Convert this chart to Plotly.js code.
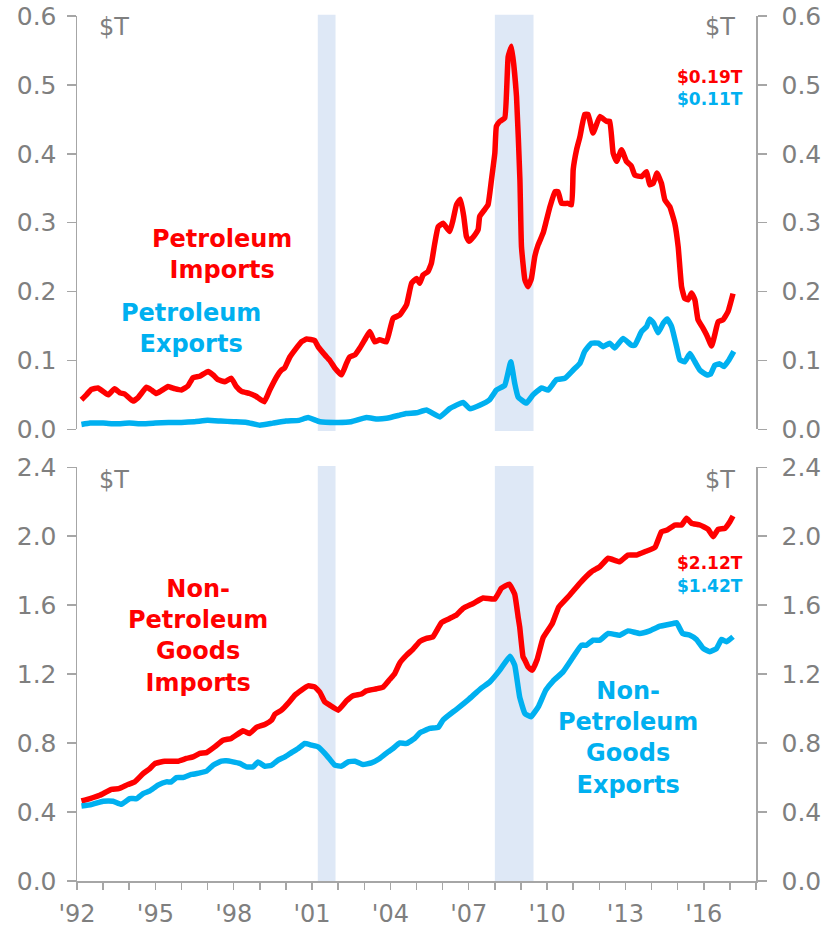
<!DOCTYPE html>
<html>
<head>
<meta charset="utf-8">
<script src="https://cdn.plot.ly/plotly-3.0.1.min.js"></script>
<style>html,body{margin:0;padding:0;background:#fff}#chart{width:823px;height:927px}</style>
</head>
<body>
<div id="chart"></div>
<script>
// ---- Data ($ trillions, 12-month totals) ----
const petImpX = [1992.17,1992.36,1992.55,1992.80,1993.00,1993.19,1993.44,1993.64,1993.83,1994.14,1994.34,1994.66,1994.85,1995.04,1995.23,1995.49,1995.74,1996.00,1996.25,1996.44,1996.70,1997.02,1997.21,1997.40,1997.66,1997.91,1998.10,1998.30,1998.61,1998.85,1999.17,1999.38,1999.64,1999.83,1999.95,2000.15,2000.34,2000.59,2000.79,2001.10,2001.23,2001.49,2001.68,2001.87,2002.13,2002.32,2002.44,2002.64,2002.83,2003.02,2003.21,2003.40,2003.59,2003.85,2004.10,2004.36,2004.62,2004.81,2005.00,2005.12,2005.25,2005.44,2005.57,2005.70,2005.83,2006.02,2006.27,2006.40,2006.53,2006.68,2006.81,2006.91,2007.01,2007.19,2007.36,2007.42,2007.61,2007.74,2007.87,2008.00,2008.06,2008.19,2008.38,2008.51,2008.64,2008.83,2008.96,2009.02,2009.15,2009.27,2009.40,2009.53,2009.66,2009.85,2009.98,2010.11,2010.30,2010.42,2010.55,2010.80,2010.94,2011.00,2011.13,2011.26,2011.44,2011.57,2011.76,2012.02,2012.28,2012.40,2012.53,2012.66,2012.85,2013.04,2013.23,2013.36,2013.62,2013.81,2013.93,2014.06,2014.21,2014.38,2014.51,2014.70,2014.89,2015.02,2015.15,2015.27,2015.40,2015.53,2015.66,2015.78,2015.97,2016.11,2016.30,2016.42,2016.55,2016.74,2016.93,2017.12];
const petImpY = [0.043,0.050,0.058,0.060,0.055,0.050,0.059,0.053,0.051,0.041,0.046,0.061,0.057,0.052,0.056,0.062,0.059,0.057,0.063,0.075,0.077,0.084,0.079,0.072,0.069,0.074,0.062,0.055,0.052,0.048,0.040,0.057,0.076,0.086,0.089,0.105,0.115,0.127,0.131,0.129,0.120,0.108,0.100,0.089,0.079,0.096,0.105,0.108,0.118,0.130,0.142,0.127,0.130,0.127,0.161,0.166,0.181,0.212,0.219,0.212,0.224,0.229,0.241,0.270,0.294,0.299,0.287,0.304,0.326,0.334,0.309,0.280,0.273,0.280,0.290,0.309,0.319,0.326,0.362,0.401,0.440,0.447,0.452,0.541,0.556,0.483,0.362,0.265,0.217,0.207,0.219,0.251,0.268,0.285,0.304,0.323,0.345,0.345,0.328,0.328,0.326,0.377,0.406,0.425,0.457,0.457,0.430,0.454,0.447,0.447,0.401,0.389,0.406,0.389,0.382,0.369,0.367,0.374,0.355,0.357,0.372,0.357,0.333,0.323,0.299,0.265,0.207,0.190,0.188,0.198,0.188,0.159,0.147,0.137,0.121,0.137,0.156,0.159,0.171,0.197];

const petExpX = [1992.17,1992.50,1993.00,1993.50,1994.00,1994.50,1995.00,1995.50,1996.00,1996.50,1997.00,1997.50,1998.00,1998.50,1999.00,1999.50,2000.00,2000.50,2000.85,2001.30,2002.00,2002.50,2003.08,2003.50,2003.85,2004.30,2004.60,2005.00,2005.38,2005.89,2006.27,2006.78,2007.04,2007.42,2007.80,2008.06,2008.38,2008.61,2008.76,2008.89,2009.21,2009.46,2009.79,2010.04,2010.36,2010.68,2011.00,2011.26,2011.44,2011.70,2011.96,2012.15,2012.40,2012.59,2012.91,2013.23,2013.36,2013.62,2013.81,2013.93,2014.08,2014.25,2014.45,2014.60,2014.77,2014.96,2015.08,2015.27,2015.47,2015.66,2015.85,2016.11,2016.26,2016.42,2016.61,2016.77,2016.97,2017.15];
const petExpY = [0.007,0.009,0.009,0.008,0.009,0.008,0.009,0.010,0.010,0.011,0.013,0.012,0.011,0.010,0.006,0.009,0.012,0.013,0.017,0.011,0.010,0.011,0.017,0.015,0.016,0.020,0.023,0.024,0.028,0.018,0.030,0.039,0.030,0.035,0.043,0.057,0.064,0.098,0.067,0.047,0.038,0.050,0.060,0.057,0.072,0.074,0.086,0.096,0.113,0.125,0.125,0.120,0.125,0.118,0.132,0.122,0.122,0.142,0.149,0.160,0.154,0.140,0.154,0.160,0.149,0.120,0.101,0.098,0.110,0.098,0.086,0.079,0.080,0.093,0.095,0.091,0.101,0.113];

const nonPetImpX = [1992.17,1992.50,1992.87,1993.32,1993.60,1993.95,1994.21,1994.53,1994.79,1994.98,1995.36,1995.87,1996.19,1996.44,1996.70,1996.96,1997.27,1997.59,1997.91,1998.36,1998.61,1998.87,1999.19,1999.45,1999.58,1999.83,2000.08,2000.34,2000.59,2000.85,2001.10,2001.30,2001.49,2001.68,2002.00,2002.32,2002.57,2002.89,2003.08,2003.47,2003.72,2003.98,2004.17,2004.36,2004.62,2004.87,2005.13,2005.38,2005.63,2005.96,2006.27,2006.53,2006.78,2007.17,2007.55,2008.00,2008.25,2008.55,2008.76,2008.89,2008.95,2009.08,2009.15,2009.27,2009.43,2009.62,2009.85,2010.20,2010.45,2010.87,2011.25,2011.70,2012.02,2012.34,2012.78,2013.10,2013.42,2013.74,2014.13,2014.38,2014.60,2014.89,2015.15,2015.34,2015.53,2015.85,2016.17,2016.36,2016.55,2016.81,2017.00,2017.12];
const nonPetImpY = [0.464,0.478,0.497,0.531,0.536,0.560,0.575,0.623,0.652,0.681,0.695,0.695,0.711,0.720,0.740,0.745,0.778,0.817,0.827,0.871,0.856,0.891,0.908,0.933,0.968,0.991,1.030,1.078,1.107,1.132,1.126,1.095,1.039,1.020,0.991,1.045,1.075,1.085,1.103,1.115,1.125,1.170,1.204,1.265,1.310,1.345,1.390,1.407,1.417,1.500,1.523,1.543,1.581,1.610,1.642,1.636,1.698,1.722,1.664,1.533,1.475,1.300,1.281,1.242,1.223,1.285,1.412,1.494,1.590,1.659,1.727,1.794,1.823,1.872,1.852,1.891,1.891,1.910,1.935,2.026,2.036,2.065,2.065,2.104,2.075,2.065,2.040,1.997,2.040,2.046,2.084,2.117];

const nonPetExpX = [1992.17,1992.55,1993.00,1993.38,1993.70,1994.02,1994.28,1994.53,1994.79,1995.10,1995.42,1995.61,1995.81,1996.06,1996.38,1996.70,1996.96,1997.21,1997.53,1997.72,1997.97,1998.23,1998.49,1998.74,1998.93,1999.19,1999.45,1999.70,1999.96,2000.21,2000.47,2000.72,2000.98,2001.23,2001.49,2001.68,2001.87,2002.13,2002.38,2002.64,2002.95,2003.27,2003.59,2003.91,2004.10,2004.36,2004.62,2004.93,2005.13,2005.51,2005.83,2006.02,2006.53,2007.00,2007.45,2007.81,2008.19,2008.58,2008.76,2008.95,2009.15,2009.38,2009.68,2009.95,2010.23,2010.61,2011.00,2011.32,2011.51,2011.76,2012.02,2012.34,2012.78,2013.10,2013.55,2013.93,2014.32,2014.83,2014.96,2015.19,2015.47,2015.72,2015.98,2016.23,2016.49,2016.68,2016.87,2017.12];
const nonPetExpY = [0.435,0.443,0.463,0.463,0.445,0.478,0.478,0.507,0.523,0.556,0.575,0.575,0.600,0.600,0.618,0.627,0.637,0.672,0.695,0.697,0.691,0.682,0.662,0.662,0.691,0.666,0.672,0.701,0.720,0.745,0.769,0.798,0.788,0.778,0.740,0.706,0.672,0.666,0.691,0.695,0.676,0.685,0.711,0.749,0.769,0.801,0.798,0.827,0.860,0.885,0.891,0.935,0.996,1.054,1.115,1.155,1.223,1.304,1.252,1.068,0.972,0.952,1.015,1.107,1.160,1.213,1.300,1.368,1.368,1.397,1.397,1.436,1.426,1.451,1.436,1.451,1.478,1.494,1.498,1.436,1.426,1.401,1.349,1.330,1.349,1.401,1.388,1.417];

const recessions = [[2001.22, 2001.90], [2008.00, 2009.48]];
const yearTicks = [1992,1993,1994,1995,1996,1997,1998,1999,2000,2001,2002,2003,2004,2005,2006,2007,2008,2009,2010,2011,2012,2013,2014,2015,2016,2017,2018];
const yearLabels = ["'92","","","'95","","","'98","","","'01","","","'04","","","'07","","","'10","","","'13","","","'16","",""];
const topTicks = [0,0.1,0.2,0.3,0.4,0.5,0.6];
const bottomTicks = [0,0.4,0.8,1.2,1.6,2.0,2.4];
const latest = {petImp:"$0.19T", petExp:"$0.11T", nonPetImp:"$2.12T", nonPetExp:"$1.42T"};

// ---- Styling ----
const RED = "#ff0000", BLUE = "#00b0f0";
const AXIS = "#a6a6a6", LABEL = "#7f7f7f";
const FONT = "DejaVu Sans, Verdana, sans-serif";
const LW = 5.5;

const lineTrace = (x, y, xa, ya, color) => ({x:x, y:y, xaxis:xa, yaxis:ya, mode:"lines",
  line:{color:color, width:LW, shape:"spline", smoothing:0.35}, hoverinfo:"skip"});
// invisible copies so the right-hand axes are drawn
const ghost = (x, y, xa, ya) => ({x:x, y:y, xaxis:xa, yaxis:ya, mode:"lines", opacity:0, line:{width:0}, hoverinfo:"skip"});

const traces = [
  lineTrace(petImpX, petImpY, "x", "y", RED),
  lineTrace(petExpX, petExpY, "x", "y", BLUE),
  lineTrace(nonPetImpX, nonPetImpY, "x2", "y3", RED),
  lineTrace(nonPetExpX, nonPetExpY, "x2", "y3", BLUE),
  ghost(petImpX, petImpY, "x", "y2"),
  ghost(nonPetImpX, nonPetImpY, "x2", "y4")
];

const yCommon = {
  showline:true, linecolor:AXIS, linewidth:1.5, ticks:"outside", ticklen:9, tickcolor:AXIS, tickwidth:1.5,
  showgrid:false, zeroline:false, tickfont:{family:FONT, size:25, color:LABEL}, ticklabelstandoff:5, fixedrange:true
};
const topDom = [0.5222, 1], botDom = [0, 0.4783];

const shapes = [];
recessions.forEach(r => {
  shapes.push({type:"rect", xref:"x", yref:"y domain", x0:r[0], x1:r[1], y0:-0.004, y1:1.003, fillcolor:"#dee8f6", line:{width:0}, layer:"below"});
  shapes.push({type:"rect", xref:"x2", yref:"y3 domain", x0:r[0], x1:r[1], y0:0, y1:1.003, fillcolor:"#dee8f6", line:{width:0}, layer:"below"});
});

const ann = (text, x, y, color, size, xanchor, bold) => ({
  text: bold ? "<b>"+text+"</b>" : text, x:x, y:y, xref:"paper", yref:"paper", showarrow:false,
  xanchor:xanchor, yanchor:"middle", align:"center",
  font:{family:FONT, size:size, color:color}
});

const layout = {
  width:823, height:927,
  margin:{l:77, r:67, t:16, b:46},
  paper_bgcolor:"#fff", plot_bgcolor:"rgba(0,0,0,0)",
  showlegend:false,
  xaxis:{domain:[0,1], anchor:"y", range:[1992,2018], showline:false, showticklabels:false, ticks:"", showgrid:false, zeroline:false, fixedrange:true},
  yaxis:Object.assign({}, yCommon, {domain:topDom, anchor:"x", range:[0,0.6], tickvals:topTicks, tickformat:".1f", side:"left"}),
  yaxis2:Object.assign({}, yCommon, {overlaying:"y", anchor:"x", range:[0,0.6], tickvals:topTicks, tickformat:".1f", side:"right", ticklabelstandoff:10}),
  xaxis2:{domain:[0,1], anchor:"y3", range:[1992,2018], tickvals:yearTicks, ticktext:yearLabels,
    showline:true, linecolor:AXIS, linewidth:1.5, ticks:"outside", ticklen:7, tickcolor:AXIS, tickwidth:1.5,
    showgrid:false, zeroline:false, tickfont:{family:FONT, size:24, color:LABEL}, ticklabelstandoff:4, fixedrange:true},
  yaxis3:Object.assign({}, yCommon, {domain:botDom, anchor:"x2", range:[0,2.4], tickvals:bottomTicks, tickformat:".1f", side:"left"}),
  yaxis4:Object.assign({}, yCommon, {overlaying:"y3", anchor:"x2", range:[0,2.4], tickvals:bottomTicks, tickformat:".1f", side:"right", ticklabelstandoff:10}),
  shapes: shapes,
  annotations: [
    ann("$T", 0.0295, 0.9873, LABEL, 24, "left", false),
    ann("$T", 0.972, 0.9873, LABEL, 24, "right", false),
    ann("$T", 0.0295, 0.4636, LABEL, 24, "left", false),
    ann("$T", 0.972, 0.4636, LABEL, 24, "right", false),
    ann("Petroleum<br>Imports", 0.2135, 0.7237, RED, 24, "center", true),
    ann("Petroleum<br>Exports", 0.1675, 0.6387, BLUE, 24, "center", true),
    ann(latest.petImp, 0.9838, 0.9295, RED, 17, "right", true),
    ann(latest.petExp, 0.9838, 0.9040, BLUE, 17, "right", true),
    ann("Non-<br>Petroleum<br>Goods<br>Imports", 0.1782, 0.2832, RED, 24, "center", true),
    ann("Non-<br>Petroleum<br>Goods<br>Exports", 0.8115, 0.1653, BLUE, 24, "center", true),
    ann(latest.nonPetImp, 0.9838, 0.3676, RED, 17, "right", true),
    ann(latest.nonPetExp, 0.9838, 0.3410, BLUE, 17, "right", true)
  ]
};

Plotly.newPlot("chart", traces, layout, {displayModeBar:false, staticPlot:true});
</script>
</body>
</html>
